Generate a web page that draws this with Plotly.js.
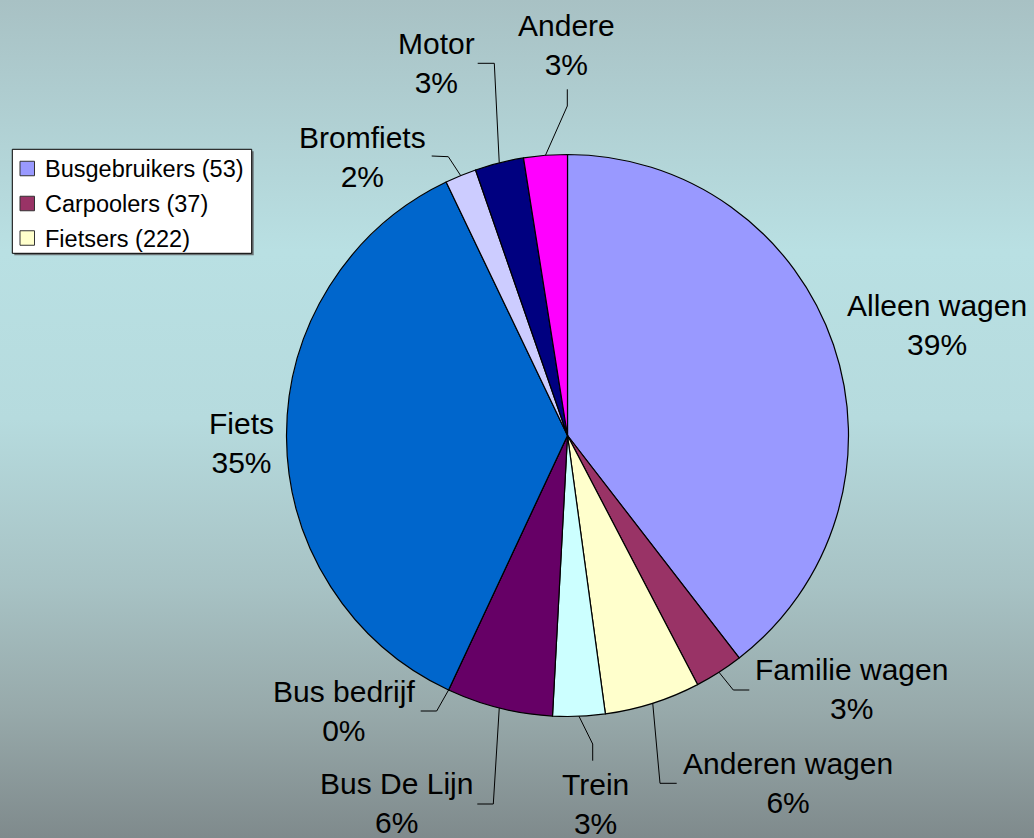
<!DOCTYPE html>
<html><head><meta charset="utf-8">
<script src="https://cdn.plot.ly/plotly-3.0.1.min.js"></script>
<style>
html,body{margin:0;padding:0;}
body{width:1034px;height:838px;overflow:hidden;
background:linear-gradient(to bottom,#a8c1c4 0%,#b9e0e3 30%,#b6dbde 50%,#a7c2c4 70%,#97a9aa 85%,#7f8a8c 100%);}
#chart{width:1034px;height:838px;}
</style></head><body><div id="chart"></div>
<script>
// ---- data ----
const categories = ['Alleen wagen','Familie wagen','Anderen wagen','Trein','Bus De Lijn','Bus bedrijf','Fiets','Bromfiets','Motor','Andere'];
const shares = [39.5, 2.8, 5.5, 3.0, 6.1, 0, 35.9, 1.8, 2.8, 2.5];
const pctLabels = ['39%','3%','6%','3%','6%','0%','35%','2%','3%','3%'];
const sliceColors = ['#9999FF','#993366','#FFFFCC','#CCFFFF','#660066','#FF8080','#0066CC','#CCCCFF','#000080','#FF00FF'];
const legendNames = ['Busgebruikers (53)','Carpoolers (37)','Fietsers (222)'];
const legendColors = ['#9999FF','#993366','#FFFFCC'];

// ---- layout constants (pixels) ----
const W = 1034, H = 838;
const CX = 567.5, CY = 435.5, R = 281;
const FONT = 'Liberation Sans, Arial, sans-serif';
// label block centres and leader tail/elbow points
const labelPlace = [
  {x:936.5, y:324.5, lead:null},
  {x:851.5, y:689,   lead:[749.3,690, 733.3,690]},
  {x:788,   y:783,   lead:[676.7,783.3, 660,783.3]},
  {x:595,   y:803.5, lead:[592.7,760.7, 592.7,744]},
  {x:396,   y:803,   lead:[477.3,804, 493.3,804]},
  {x:344,   y:710.5, lead:[420.7,711, 436.7,711]},
  {x:241,   y:442.5, lead:null},
  {x:362.5, y:157,   lead:[431.7,156, 448.3,156.7]},
  {x:436,   y:63,    lead:[477.7,63.3, 494.3,63.3]},
  {x:566.7, y:45,    lead:[567.3,89.3, 567.3,106]}
];
const legendBox = {x0:12.3, y0:149.3, x1:251.7, y1:253.3};
const legendRowY = [168.5, 203.5, 238];

const px = x => x / W;
const py = y => 1 - y / H;
const P = (x, y) => px(x) + ',' + py(y);

// mid-angle circumference points from the data
const total = shares.reduce((a, b) => a + b, 0);
let cum = 0;
const midPts = shares.map(v => {
  const a = (cum + v / 2) / total * 2 * Math.PI;
  cum += v;
  return [CX + R * Math.sin(a), CY - R * Math.cos(a)];
});

const shapes = [];
const annotations = [];
categories.forEach((c, i) => {
  const lp = labelPlace[i];
  annotations.push({
    text: c + '<br>' + pctLabels[i], x: px(lp.x), y: py(lp.y),
    xref: 'paper', yref: 'paper', xanchor: 'center', yanchor: 'middle',
    showarrow: false, font: {family: FONT, size: 30, color: '#000'}
  });
  if (lp.lead) {
    const [tx, ty, ex, ey] = lp.lead;
    shapes.push({type: 'path', xref: 'paper', yref: 'paper',
      path: 'M' + P(tx, ty) + 'L' + P(ex, ey) + 'L' + P(midPts[i][0], midPts[i][1]),
      line: {color: '#000', width: 1}});
  }
});

// custom legend
shapes.push({type:'rect', xref:'paper', yref:'paper', x0:px(legendBox.x0+2), x1:px(legendBox.x1+2),
  y0:py(legendBox.y0+2), y1:py(legendBox.y1+2), fillcolor:'#6a7274', line:{width:0}});
shapes.push({type:'rect', xref:'paper', yref:'paper', x0:px(legendBox.x0), x1:px(legendBox.x1),
  y0:py(legendBox.y0), y1:py(legendBox.y1), fillcolor:'#fff', line:{color:'#000', width:1}});
legendNames.forEach((n, i) => {
  const yc = legendRowY[i];
  shapes.push({type:'rect', xref:'paper', yref:'paper', x0:px(20), x1:px(34.5),
    y0:py(yc - 7.25), y1:py(yc + 7.25), fillcolor:legendColors[i], line:{color:'#333', width:1}});
  annotations.push({text:n, x:px(42.5), y:py(yc + 0.5), xref:'paper', yref:'paper',
    xanchor:'left', yanchor:'middle', showarrow:false,
    font:{family:FONT, size:23.5, color:'#000'}});
});

const trace = {
  type: 'pie', labels: categories, values: shares, sort: false,
  direction: 'clockwise', rotation: 0, textinfo: 'none', showlegend: false,
  marker: {colors: sliceColors, line: {color: '#000', width: 1.2}},
  domain: {x: [px(CX - R), px(CX + R)], y: [py(CY + R), py(CY - R)]},
  hoverinfo: 'label+percent'
};

Plotly.newPlot('chart', [trace], {
  width: W, height: H, margin: {l:0, r:0, t:0, b:0},
  paper_bgcolor: 'rgba(0,0,0,0)', plot_bgcolor: 'rgba(0,0,0,0)',
  showlegend: false, shapes: shapes, annotations: annotations,
  font: {family: FONT}
}, {displayModeBar: false, staticPlot: true});
</script></body></html>
